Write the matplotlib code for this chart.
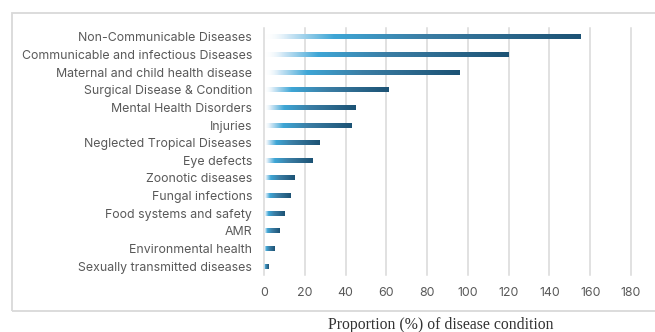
import numpy as np
import matplotlib
matplotlib.use("Agg")
import matplotlib.pyplot as plt
from matplotlib.colors import LinearSegmentedColormap
from matplotlib.patches import Rectangle

categories = [
    "Non-Communicable Diseases",
    "Communicable and infectious Diseases",
    "Maternal and child health disease",
    "Surgical Disease & Condition",
    "Mental Health Disorders",
    "Injuries",
    "Neglected Tropical Diseases",
    "Eye defects",
    "Zoonotic diseases",
    "Fungal infections",
    "Food systems and safety",
    "AMR",
    "Environmental health",
    "Sexually transmitted diseases",
]
values = [155, 120, 96, 61, 45, 43, 27, 24, 15, 13, 10, 7.5, 5, 2]
x_ticks = [0, 20, 40, 60, 80, 100, 120, 140, 160, 180]
x_label = "Proportion (%) of disease condition"

W, H = 655, 332
fig = plt.figure(figsize=(W / 100, H / 100), dpi=100)

# outer chart frame
fig.patches.append(Rectangle((12 / W, 1 - 311 / H), 700 / W, (311 - 13) / H,
                             transform=fig.transFigure, fill=False,
                             edgecolor="#d9d9d9", linewidth=1.3, zorder=0))

ax = fig.add_axes([264 / W, 1 - 275 / H, (631 - 264) / W, (275 - 28) / H])

# bar fill: fades in from white, bright blue, then deep steel blue
cmap = LinearSegmentedColormap.from_list(
    "bar", [(0.0, (1, 1, 1, 0.0)), (0.08, (0.80, 0.90, 0.96, 1.0)),
            (0.22, "#3ea6d6"), (0.5, "#3b7ea5"), (1.0, "#1c5274")])
grad = np.linspace(0, 1, 256).reshape(1, -1)

bar_h = 0.28
for i, v in enumerate(values):
    ax.imshow(grad, cmap=cmap, aspect="auto", interpolation="bilinear",
              extent=[0, v, i + bar_h / 2, i - bar_h / 2], zorder=3)

for t in x_ticks:
    ax.axvline(t, color="#d9d9d9", linewidth=1.1, zorder=1, clip_on=False)

ax.set_xlim(0, 180)
ax.set_ylim(len(categories) - 0.5, -0.5)
ax.set_aspect("auto")
ax.set_xticks(x_ticks)
ax.set_yticks(range(len(categories)))
ax.set_yticklabels(categories)
for s in ax.spines.values():
    s.set_visible(False)
ax.tick_params(axis="both", length=0, colors="#595959", labelsize=8.9)
ax.tick_params(axis="y", pad=8.5)
ax.tick_params(axis="x", pad=8.5)
for lbl in ax.get_xticklabels() + ax.get_yticklabels():
    lbl.set_fontfamily("Inter")

fig.text(441 / W, 1 - 325 / H, x_label, ha="center", va="center",
         fontfamily="Liberation Serif", fontsize=11.3, color="#333333")

fig.savefig("out.png", dpi=100)
